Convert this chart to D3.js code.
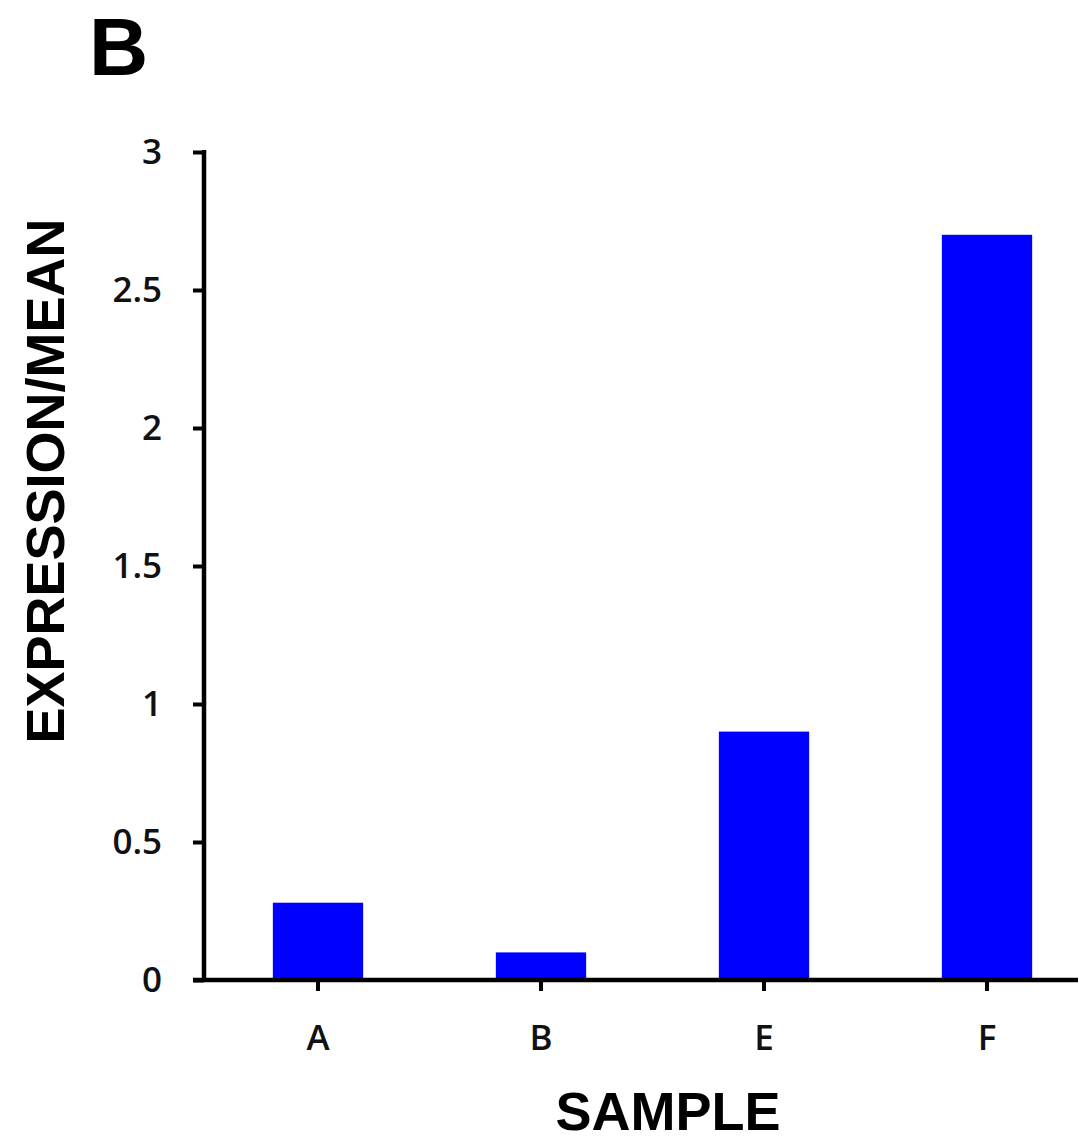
<!DOCTYPE html>
<html>
<head>
<meta charset="utf-8">
<script src="https://cdn.jsdelivr.net/npm/d3@7"></script>
<style>
  html, body { margin: 0; padding: 0; background: #fff; }
  svg { display: block; }
</style>
</head>
<body>
<svg id="chart" width="1082" height="1144"></svg>
<script>
// ---- data ----
const categories = ["A", "B", "E", "F"];
const values = [0.28, 0.10, 0.90, 2.70];
const yTicks = [0, 0.5, 1, 1.5, 2, 2.5, 3];
const yTickLabels = ["0", "0.5", "1", "1.5", "2", "2.5", "3"];
const panelLabel = "B";
const xTitle = "SAMPLE";
const yTitle = "EXPRESSION/MEAN";

// ---- layout ----
const svg = d3.select("#chart");
const x0 = 204, x1 = 1098.5, xAxisEnd = 1078;
const yBottom = 980, yTop = 152;
const tickLen = 11;
const tickFont = "'Open Sans', sans-serif";

const x = d3.scaleBand()
  .domain(categories)
  .range([x0 + 2.5, x1])
  .paddingInner(0.595)
  .paddingOuter(0.2975);

const y = d3.scaleLinear().domain([0, 3]).range([yBottom, yTop]);

// bars
svg.append("g").selectAll("rect")
  .data(categories.map((c, i) => ({ c, v: values[i] })))
  .join("rect")
  .attr("x", d => x(d.c))
  .attr("width", x.bandwidth())
  .attr("y", d => y(d.v))
  .attr("height", d => y(0) - y(d.v))
  .attr("fill", "#0000ff");

// y axis
const yAxis = svg.append("g").attr("transform", `translate(${x0},0)`)
  .call(d3.axisLeft(y).tickValues(yTicks).tickFormat((d, i) => yTickLabels[i]).tickSize(tickLen).tickPadding(31));
yAxis.select(".domain").remove();
yAxis.selectAll(".tick line").attr("stroke", "#000").attr("stroke-width", 4);
yAxis.selectAll(".tick text")
  .attr("font-family", tickFont)
  .attr("font-size", 35)
  .attr("font-weight", 600)
  .attr("fill", "#111")
  .attr("dy", "0.34em");
yAxis.append("line")
  .attr("x1", 0).attr("x2", 0)
  .attr("y1", y(3) - 2).attr("y2", y(0) + 2)
  .attr("stroke", "#000").attr("stroke-width", 4.5);

// x axis
const xAxis = svg.append("g").attr("transform", `translate(0,${yBottom})`)
  .call(d3.axisBottom(x).tickSize(tickLen).tickPadding(34));
xAxis.select(".domain").remove();
xAxis.selectAll(".tick line").attr("stroke", "#000").attr("stroke-width", 4);
xAxis.selectAll(".tick text")
  .attr("font-family", tickFont)
  .attr("font-size", 35)
  .attr("font-weight", 600)
  .attr("fill", "#111");
xAxis.append("line")
  .attr("x1", x0 - tickLen).attr("x2", xAxisEnd)
  .attr("y1", 0).attr("y2", 0)
  .attr("stroke", "#000").attr("stroke-width", 4.5);

// titles
svg.append("text")
  .attr("x", 668).attr("y", 1130)
  .attr("text-anchor", "middle")
  .attr("font-family", "'Liberation Sans', Arial, sans-serif")
  .attr("font-weight", "bold")
  .attr("font-size", 54)
  .text(xTitle);

svg.append("text")
  .attr("transform", "translate(64,481) rotate(-90)")
  .attr("text-anchor", "middle")
  .attr("font-family", "'Liberation Sans', Arial, sans-serif")
  .attr("font-weight", "bold")
  .attr("font-size", 54)
  .text(yTitle);

svg.append("text")
  .attr("x", 89).attr("y", 75)
  .attr("font-family", "'Liberation Sans', Arial, sans-serif")
  .attr("font-weight", "bold")
  .attr("font-size", 82)
  .text(panelLabel);
</script>
</body>
</html>
